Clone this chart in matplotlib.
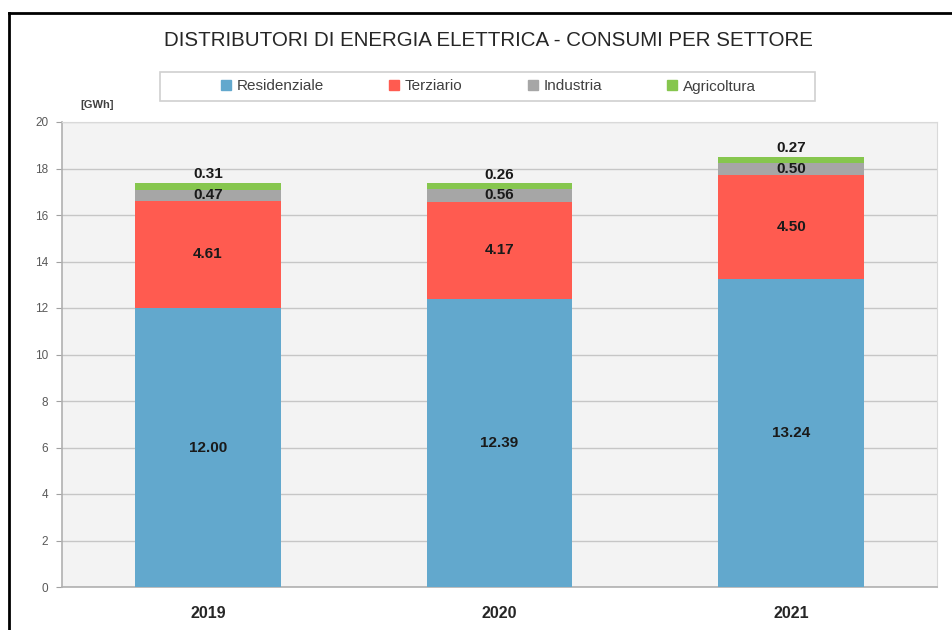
import matplotlib.pyplot as plt
from matplotlib.patches import Rectangle
from matplotlib.lines import Line2D

years = ["2019", "2020", "2021"]
residenziale = [12.00, 12.39, 13.24]
terziario = [4.61, 4.17, 4.50]
industria = [0.47, 0.56, 0.50]
agricoltura = [0.31, 0.26, 0.27]

series = [("Residenziale", residenziale, "#62A8CD"),
          ("Terziario", terziario, "#FF5B50"),
          ("Industria", industria, "#A6A6A6"),
          ("Agricoltura", agricoltura, "#86C64E")]

plt.rcParams['font.family'] = ["Liberation Sans", "DejaVu Sans"]

fig = plt.figure(figsize=(9.53, 6.30), dpi=100)
ax = fig.add_axes([62 / 953, 43 / 630, 875 / 953, 465 / 630])
ax.set_facecolor("#F3F3F3")

x = list(range(len(years)))
bottom = [0.0] * len(years)
bars = []
for name, vals, col in series:
    b = ax.bar(x, vals, width=0.5, bottom=bottom, color=col, label=name, zorder=3)
    bars.append(b)
    bottom = [bt + v for bt, v in zip(bottom, vals)]

# data labels: last segment above the bar, others centred
for i, (name, vals, col) in enumerate(series):
    if name == "Agricoltura":
        ax.bar_label(bars[i], labels=[f"{v:.2f}" for v in vals], label_type="edge",
                     padding=1, fontsize=11, fontweight="bold", color="#1A1A1A")
    else:
        ax.bar_label(bars[i], labels=[f"{v:.2f}" for v in vals], label_type="center",
                     fontsize=11, fontweight="bold", color="#1A1A1A")

ax.set_xlim(-0.5, 2.5)
ax.set_ylim(0, 20)
ax.set_yticks(range(0, 21, 2))
ax.set_xticks(x)
ax.set_xticklabels(years, fontweight="bold", fontsize=11.5, color="#262626")
ax.tick_params(axis="x", length=0, pad=14)
ax.tick_params(axis="y", length=4, color="#A0A0A0", labelsize=8.5, labelcolor="#595959", pad=6)
ax.grid(axis="y", color="#C6C6C6", linewidth=1, zorder=0)
for s in ["top", "right"]:
    ax.spines[s].set_color("#D9D9D9")
for s in ["left", "bottom"]:
    ax.spines[s].set_color("#B0B0B0")
    ax.spines[s].set_linewidth(1.2)

fig.text(97 / 953, 1 - 105 / 630, "[GWh]", fontsize=8, fontweight="bold",
         color="#404040", ha="center", va="center")

fig.text(488 / 953, 1 - 40 / 630, "DISTRIBUTORI DI ENERGIA ELETTRICA - CONSUMI PER SETTORE",
         fontsize=14.8, color="#262626", ha="center", va="center")

# legend box
fig.patches.append(Rectangle((160 / 953, 1 - 101 / 630), 655 / 953, 29 / 630,
                             transform=fig.transFigure, facecolor="white",
                             edgecolor="#D0D0D0", linewidth=1.2, zorder=1))
handles = [Line2D([], [], marker="s", linestyle="none", markersize=7,
                  markerfacecolor=c, markeredgecolor=c) for _, _, c in series]
leg = fig.legend(handles, [n for n, _, _ in series], ncol=4, frameon=False,
                 loc="center", bbox_to_anchor=(488 / 953, 1 - 86.5 / 630),
                 handlelength=0.8, handletextpad=0.3, columnspacing=4.2,
                 prop={"size": 11})
for t in leg.get_texts():
    t.set_color("#404040")

# outer frame of the screenshot
fig.add_artist(Line2D([9 / 953, 9 / 953], [0, 1 - 13 / 630], transform=fig.transFigure,
                      color="black", linewidth=2))
fig.add_artist(Line2D([9 / 953, 1], [1 - 13 / 630, 1 - 13 / 630], transform=fig.transFigure,
                      color="black", linewidth=2))

fig.savefig("out.png", dpi=100)
